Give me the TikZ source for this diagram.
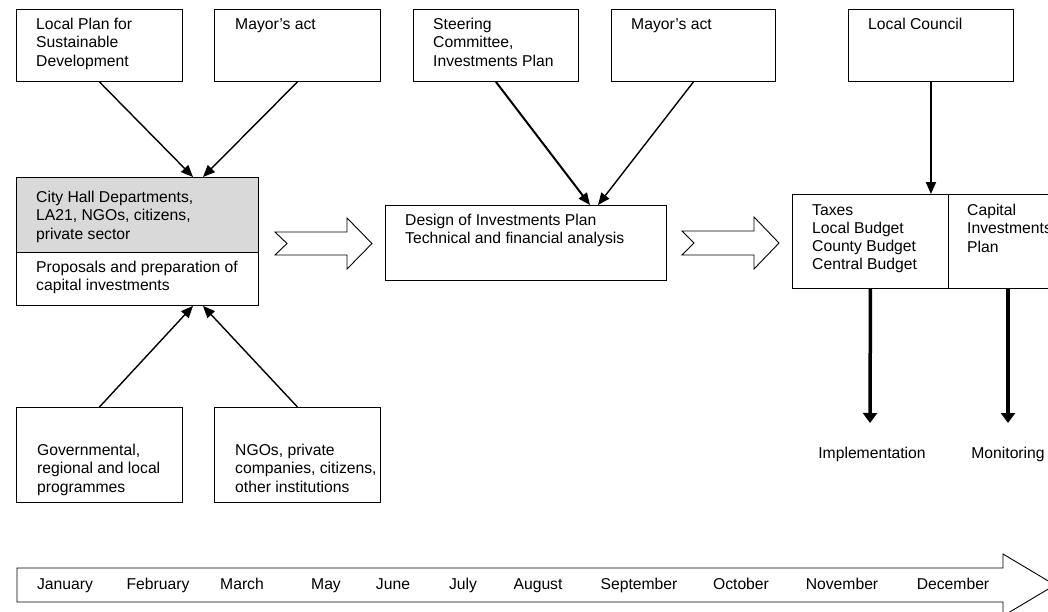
\documentclass[tikz,border=0pt]{standalone}
\usepackage{fontspec}
\setmainfont{Liberation Sans}
\usetikzlibrary{arrows.meta,calc}
\definecolor{boxgray}{RGB}{217,217,217}
\begin{document}
\begin{tikzpicture}[x=1pt,y=-1pt,
  box/.style={draw=black, line width=0.9pt, inner sep=0pt, anchor=north west},
  txt/.style={anchor=north west, inner sep=0pt, align=left, font=\fontsize{15.7}{18.3}\selectfont},
  lbl/.style={inner sep=0pt, anchor=base, font=\fontsize{15.7}{18.3}\selectfont},
  conn/.style={line width=1.4pt, -{Triangle[length=12pt,width=10pt]}},
  strong/.style={line width=2pt},
  downarrow/.style={line width=3.5pt, -{Triangle[length=10pt,width=14pt]}},
  blockarrow/.style={draw=black, line width=0.9pt, fill=white, line join=miter},
]
\useasboundingbox (0,0) rectangle (1048,611);
\clip (0,0) rectangle (1048,611);

% top boxes
\node[box, minimum width=166pt, minimum height=72pt] (b1) at (16,9) {};
\node[txt] (b1t) at ([shift={(20,9)}]b1.north west) {Local Plan for\\Sustainable\\Development};
\node[box, minimum width=166pt, minimum height=72pt] (b2) at (214,9) {};
\node[txt] (b2t) at ([shift={(21,9)}]b2.north west) {Mayor’s act};
\node[box, minimum width=165pt, minimum height=72pt] (st) at (413,9) {};
\node[txt] (stt) at ([shift={(20,9)}]st.north west) {Steering\\Committee,\\Investments Plan};
\node[box, minimum width=164pt, minimum height=72pt] (m2) at (611,9) {};
\node[txt] (m2t) at ([shift={(20,9)}]m2.north west) {Mayor’s act};
\node[box, minimum width=165pt, minimum height=72pt] (lc) at (848,9) {};
\node[txt] (lct) at ([shift={(20,9)}]lc.north west) {Local Council};

% city hall box
\node[box, fill=boxgray, minimum width=242pt, minimum height=75pt] (cityTop) at (16,177) {};
\node[txt] (cityTopt) at ([shift={(20,14)}]cityTop.north west) {City Hall Departments,\\LA21, NGOs, citizens,\\private sector};
\node[box, minimum width=242pt, minimum height=53pt] (cityBot) at (16,252) {};
\node[txt] (cityBott) at ([shift={(20,9)}]cityBot.north west) {Proposals and preparation of\\capital investments};

% bottom boxes
\node[box, minimum width=166pt, minimum height=95pt] (gov) at (16,407) {};
\node[txt] (govt) at ([shift={(21,37)}]gov.north west) {Governmental,\\regional and local\\programmes};
\node[box, minimum width=166pt, minimum height=95pt] (ngo) at (214,407) {};
\node[txt] (ngot) at ([shift={(21,37)}]ngo.north west) {NGOs, private\\companies, citizens,\\other institutions};

% design box
\node[box, minimum width=281pt, minimum height=75pt] (design) at (385,205) {};
\node[txt] (designt) at ([shift={(20,9)}]design.north west) {Design of Investments Plan\\Technical and financial analysis};

% budget boxes
\node[box, minimum width=156pt, minimum height=94pt] (taxes) at (792,194) {};
\node[txt] (taxest) at ([shift={(20,10)}]taxes.north west) {Taxes\\Local Budget\\County Budget\\Central Budget};
\node[box, minimum width=160pt, minimum height=94pt] (cap) at (948,194) {};
\node[txt] (capt) at ([shift={(19,10)}]cap.north west) {Capital\\Investments\\Plan};

% connectors
\draw[conn] (b1.south) -- ($(cityTop.north west)+(177,0)$);
\draw[conn] (b2.south) -- ($(cityTop.north west)+(187,0)$);
\draw[conn] (gov.north) -- ($(cityBot.south west)+(177,0)$);
\draw[conn] (ngo.north) -- ($(cityBot.south west)+(187,0)$);
\draw[conn, strong] (st.south) -- ($(design.north west)+(205,0)$);
\draw[conn] (m2.south) -- ($(design.north west)+(213,0)$);
\draw[conn, strong] (lc.south) -- (lc.south |- taxes.north);

\coordinate (implEnd) at (870,423);
\coordinate (monEnd) at (1008,423);
\draw[downarrow] (taxes.south) -- (implEnd);
\draw[downarrow] ($(cap.south west)+(60,0)$) -- (monEnd);
\node[lbl] (impl) at (872,458) {Implementation};
\node[lbl] (mon) at (1008,458) {Monitoring};

% block arrows
\draw[blockarrow] (275,232) -- (347,232) -- (347,218) -- (372,243.5) -- (347,269) -- (347,255) -- (275,255) -- (287,243.5) -- cycle;
\draw[blockarrow] (682,231) -- (754,231) -- (754,217) -- (779,243) -- (754,269) -- (754,255) -- (682,255) -- (694,243) -- cycle;

% timeline
\draw[blockarrow] (17,568) -- (1003,568) -- (1003,554) -- (1055,585) -- (1003,616) -- (1003,602) -- (17,602) -- cycle;
\node[lbl] (jan) at (65,589) {January};
\node[lbl] (feb) at (158,589) {February};
\node[lbl] (mar) at (242,589) {March};
\node[lbl] (may) at (326,589) {May};
\node[lbl] (jun) at (393,589) {June};
\node[lbl] (jul) at (463,589) {July};
\node[lbl] (aug) at (538,589) {August};
\node[lbl] (sep) at (639,589) {September};
\node[lbl] (oct) at (741,589) {October};
\node[lbl] (nov) at (842,589) {November};
\node[lbl] (dec) at (953,589) {December};
\end{tikzpicture}
\end{document}
